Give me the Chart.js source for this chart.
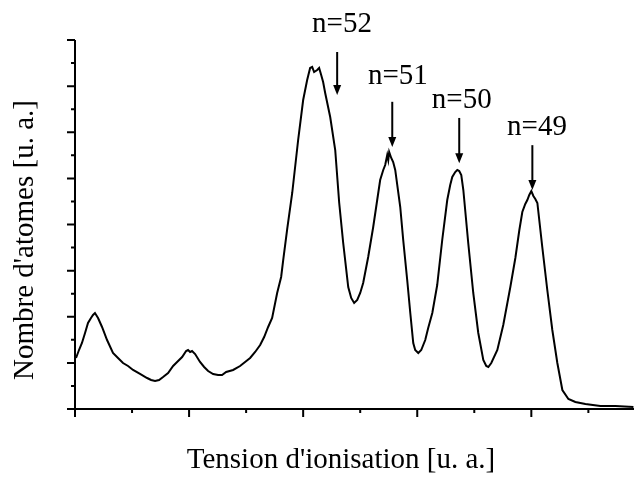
<!DOCTYPE html>
<html>
<head>
<meta charset="utf-8">
<script src="https://cdn.jsdelivr.net/npm/chart.js@4/dist/chart.umd.min.js"></script>
<style>
  body { margin: 0; background: #fff; }
  canvas { display: block; }
</style>
</head>
<body>
<canvas id="ionChart" width="634" height="477"></canvas>
<script>
// signal (x in major-tick units, y in major-tick units)
const tension = [0.009, 0.035, 0.061, 0.088, 0.114, 0.140, 0.158, 0.175, 0.202, 0.237, 0.281, 0.333, 0.377, 0.421, 0.465, 0.509, 0.570, 0.632, 0.667, 0.702, 0.737, 0.772, 0.816, 0.860, 0.895, 0.939, 0.974, 0.991, 1.009, 1.026, 1.053, 1.096, 1.132, 1.167, 1.211, 1.254, 1.289, 1.325, 1.386, 1.447, 1.491, 1.535, 1.579, 1.623, 1.658, 1.693, 1.728, 1.772, 1.807, 1.825, 1.860, 1.904, 1.956, 2.000, 2.035, 2.061, 2.079, 2.096, 2.123, 2.140, 2.158, 2.175, 2.193, 2.237, 2.281, 2.316, 2.351, 2.395, 2.421, 2.447, 2.474, 2.500, 2.526, 2.570, 2.614, 2.649, 2.675, 2.702, 2.719, 2.737, 2.746, 2.754, 2.772, 2.789, 2.807, 2.851, 2.877, 2.912, 2.939, 2.965, 2.982, 3.009, 3.035, 3.070, 3.096, 3.132, 3.175, 3.219, 3.263, 3.289, 3.307, 3.333, 3.351, 3.368, 3.386, 3.404, 3.447, 3.491, 3.535, 3.579, 3.605, 3.623, 3.649, 3.702, 3.754, 3.816, 3.860, 3.895, 3.921, 3.947, 3.965, 3.982, 4.000, 4.018, 4.035, 4.053, 4.096, 4.140, 4.184, 4.228, 4.272, 4.325, 4.386, 4.474, 4.605, 4.737, 4.895];
const atomes = [1.106, 1.279, 1.431, 1.648, 1.864, 1.973, 2.038, 2.081, 1.973, 1.778, 1.496, 1.214, 1.106, 0.997, 0.932, 0.846, 0.759, 0.672, 0.629, 0.607, 0.629, 0.694, 0.780, 0.932, 1.019, 1.127, 1.257, 1.279, 1.236, 1.257, 1.192, 1.019, 0.911, 0.824, 0.759, 0.737, 0.737, 0.802, 0.846, 0.932, 1.019, 1.106, 1.236, 1.388, 1.561, 1.778, 1.973, 2.515, 2.862, 3.230, 3.900, 4.683, 5.832, 6.699, 7.133, 7.393, 7.415, 7.306, 7.350, 7.393, 7.241, 7.089, 6.851, 6.331, 5.615, 4.466, 3.599, 2.645, 2.407, 2.298, 2.363, 2.515, 2.732, 3.295, 3.946, 4.531, 4.965, 5.182, 5.290, 5.507, 5.398, 5.572, 5.442, 5.355, 5.182, 4.379, 3.664, 2.797, 2.081, 1.431, 1.279, 1.214, 1.279, 1.496, 1.756, 2.081, 2.688, 3.664, 4.531, 4.856, 5.030, 5.138, 5.182, 5.160, 5.073, 4.748, 3.599, 2.515, 1.648, 1.062, 0.932, 0.911, 0.997, 1.279, 1.821, 2.645, 3.274, 3.881, 4.271, 4.444, 4.531, 4.640, 4.726, 4.618, 4.553, 4.466, 3.512, 2.580, 1.713, 0.997, 0.412, 0.217, 0.152, 0.108, 0.065, 0.065, 0.043];

const xMajor = [0, 1, 2, 3, 4];
const xMinor = [0.5, 1.5, 2.5, 3.5, 4.5];
const yMajor = [0, 1, 2, 3, 4, 5, 6, 7, 8];
const yMinor = [0.5, 1.5, 2.5, 3.5, 4.5, 5.5, 6.5, 7.5];

// peak markers
const peakLabels = ['n=52', 'n=51', 'n=50', 'n=49'];
const arrowX = [2.298, 2.781, 3.368, 4.009];
const arrowTop = [7.74, 6.66, 6.31, 5.72];
const arrowTip = [6.81, 5.68, 5.33, 4.75];
const labelX = [2.34, 2.83, 3.39, 4.05];
const labelY = [8.33, 7.22, 6.68, 6.11];

const xTitle = "Tension d'ionisation [u. a.]";
const yTitle = "Nombre d'atomes [u. a.]";

const points = tension.map((x, i) => ({ x: x, y: atomes[i] }));

const axesPlugin = {
  id: 'axesPlugin',
  afterDraw(chart) {
    const ctx = chart.ctx;
    const xs = chart.scales.x, ys = chart.scales.y;
    const area = chart.chartArea;
    ctx.save();
    ctx.strokeStyle = '#000';
    ctx.fillStyle = '#000';
    ctx.lineWidth = 2;
    // axis lines
    ctx.beginPath();
    ctx.moveTo(area.left, area.top);
    ctx.lineTo(area.left, area.bottom);
    ctx.lineTo(area.right, area.bottom);
    ctx.stroke();
    // ticks
    ctx.beginPath();
    xMajor.forEach(v => { const p = xs.getPixelForValue(v); ctx.moveTo(p, area.bottom); ctx.lineTo(p, area.bottom + 8); });
    xMinor.forEach(v => { const p = xs.getPixelForValue(v); ctx.moveTo(p, area.bottom); ctx.lineTo(p, area.bottom + 4); });
    yMajor.forEach(v => { const p = ys.getPixelForValue(v); ctx.moveTo(area.left, p); ctx.lineTo(area.left - 8, p); });
    yMinor.forEach(v => { const p = ys.getPixelForValue(v); ctx.moveTo(area.left, p); ctx.lineTo(area.left - 4, p); });
    ctx.stroke();

    // titles
    ctx.font = '29px "Liberation Serif"';
    ctx.textAlign = 'center';
    ctx.textBaseline = 'middle';
    ctx.fillText(xTitle, 341, 460);
    ctx.save();
    ctx.translate(25, 240);
    ctx.rotate(-Math.PI / 2);
    ctx.fillText(yTitle, 0, 0);
    ctx.restore();

    // peak arrows and labels
    ctx.lineWidth = 2;
    peakLabels.forEach((txt, i) => {
      const px = xs.getPixelForValue(arrowX[i]);
      const y0 = ys.getPixelForValue(arrowTop[i]);
      const y1 = ys.getPixelForValue(arrowTip[i]);
      ctx.beginPath();
      ctx.moveTo(px, y0);
      ctx.lineTo(px, y1 - 8);
      ctx.stroke();
      ctx.beginPath();
      ctx.moveTo(px - 4, y1 - 10);
      ctx.lineTo(px + 4, y1 - 10);
      ctx.lineTo(px, y1);
      ctx.closePath();
      ctx.fill();
      ctx.fillText(txt, xs.getPixelForValue(labelX[i]), ys.getPixelForValue(labelY[i]));
    });
    ctx.restore();
  }
};

new Chart(document.getElementById('ionChart').getContext('2d'), {
  type: 'line',
  data: {
    datasets: [{
      data: points,
      borderColor: '#000',
      borderWidth: 2,
      pointRadius: 0,
      tension: 0,
      fill: false
    }]
  },
  options: {
    responsive: false,
    animation: false,
    layout: { padding: { left: 75, top: 40, right: 0, bottom: 68 } },
    scales: {
      x: { type: 'linear', min: 0, max: 4.9, display: false },
      y: { type: 'linear', min: 0, max: 8, display: false }
    },
    plugins: {
      legend: { display: false },
      tooltip: { enabled: false }
    }
  },
  plugins: [axesPlugin]
});
</script>
</body>
</html>
